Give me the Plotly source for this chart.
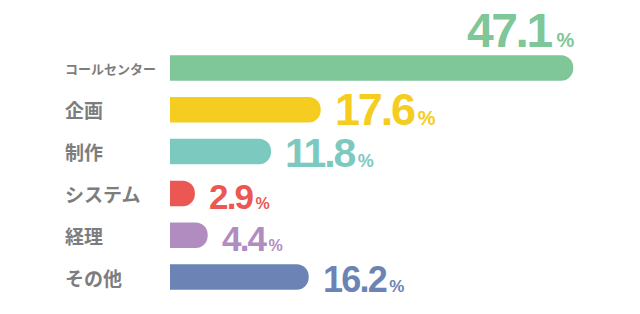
import plotly.graph_objects as go

categories = ["コールセンター", "企画", "制作", "システム", "経理", "その他"]
values = [47.1, 17.6, 11.8, 2.9, 4.4, 16.2]
value_labels = ["47.1", "17.6", "11.8", "2.9", "4.4", "16.2"]
colors = ["#7fc699", "#f5cd20", "#7cc9bf", "#eb5853", "#b18cc1", "#6b84b5"]
num_sizes = [48, 45, 41, 35, 35, 36]
pct_sizes = [20, 20, 18, 16, 16, 17]
label_sizes = [13, 19, 19, 19, 19, 19]

ypos = list(range(len(categories)))

fig = go.Figure()
fig.add_trace(go.Bar(
    x=values, y=ypos, orientation="h",
    marker=dict(color=colors, cornerradius=13, line=dict(width=0)),
    width=0.61, hoverinfo="skip",
))

NUMFONT = "Liberation Sans, Arial, sans-serif"
ann = []
for i, (c, v, lab) in enumerate(zip(categories, values, value_labels)):
    ann.append(dict(
        x=-0.228, xref="paper", y=i, yref="y", text=f"<b>{c}</b>",
        xanchor="left", yanchor="middle", showarrow=False,
        font=dict(family="Noto Sans CJK JP", size=label_sizes[i], color="#7d7d7d"),
    ))
    ls = round(-0.05 * num_sizes[i], 1)
    gap = "\u2009\u200a" if i == 0 else "\u2009"
    txt = (f"<b><span style='letter-spacing:{ls}px'>{lab}</span>"
           f"<span style='font-size:{pct_sizes[i]}px'>{gap}%</span></b>")
    if i == 0:
        ann.append(dict(
            x=v, y=i - 0.3, xref="x", yref="y", text=txt,
            xanchor="right", yanchor="bottom", showarrow=False,
            xshift=4, yshift=-4,
            font=dict(family=NUMFONT, size=num_sizes[i], color=colors[i]),
        ))
    else:
        ann.append(dict(
            x=v, y=i + 0.3, xref="x", yref="y", text=txt,
            xanchor="left", yanchor="bottom", showarrow=False,
            xshift=12, yshift=-int(num_sizes[i] * 0.27) - 3,
            font=dict(family=NUMFONT, size=num_sizes[i], color=colors[i]),
        ))

fig.update_layout(
    width=640, height=314,
    margin=dict(l=170, r=0, t=0, b=0),
    paper_bgcolor="white", plot_bgcolor="white",
    showlegend=False,
    annotations=ann,
    xaxis=dict(range=[0, 54.9], visible=False, fixedrange=True),
    yaxis=dict(range=[5.885, -1.627], visible=False, fixedrange=True),
)

fig.write_html("out.html", config={"displayModeBar": False})
